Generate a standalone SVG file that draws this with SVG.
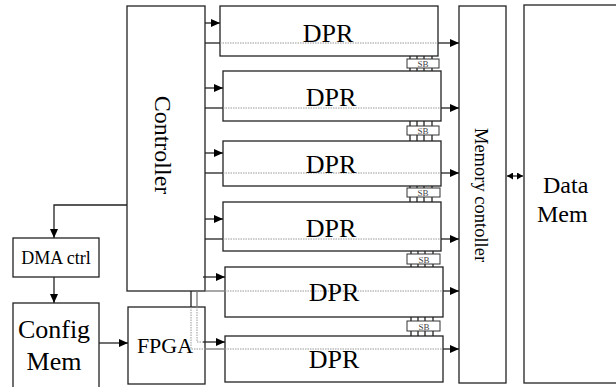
<svg xmlns="http://www.w3.org/2000/svg" width="616" height="387" viewBox="0 0 616 387">
<defs>
<marker id="ah" markerWidth="10" markerHeight="8" refX="9" refY="4" orient="auto" markerUnits="userSpaceOnUse"><path d="M0,0 L9,4 L0,8 z" fill="#000"/></marker>
<marker id="ahs" markerWidth="7" markerHeight="7" refX="6" refY="3.5" orient="auto-start-reverse" markerUnits="userSpaceOnUse"><path d="M0,0 L6,3.5 L0,7 z" fill="#000"/></marker>
</defs>
<style>
.box{fill:#fff;stroke:#222;stroke-width:1.3}
.ln{fill:none;stroke:#222;stroke-width:1.3}
.gl{fill:none;stroke:#777;stroke-width:1.3}
.dot{fill:none;stroke:#999;stroke-width:1;stroke-dasharray:1.5 1}
.t{font-family:"Liberation Serif","Times New Roman",serif;fill:#000}
.sb{fill:#fff;stroke:#333;stroke-width:1}
.sbt{font-family:"Liberation Serif","Times New Roman",serif;font-size:9px;fill:#444}
</style>
<rect width="616" height="387" fill="#fff"/>

<g id="controller">
<rect class="box" x="127" y="6" width="78" height="285"/>
<text class="t" font-size="24" text-anchor="middle" transform="translate(155,145) rotate(90)">Controller</text>
</g>

<g id="memctrl">
<rect class="box" x="459" y="6" width="47" height="377"/>
<text class="t" font-size="18.5" text-anchor="middle" transform="translate(475,195) rotate(90)">Memory contoller</text>
</g>

<g id="datamem">
<rect class="box" x="524" y="5" width="100" height="378"/>
<text class="t" font-size="24" x="543" y="193">Data</text>
<text class="t" font-size="24" x="537" y="222">Mem</text>
</g>

<g id="dma">
<rect class="box" x="13" y="238" width="86" height="39"/>
<text class="t" font-size="18" x="56" y="264" text-anchor="middle">DMA ctrl</text>
</g>

<g id="configmem">
<rect class="box" x="13" y="303" width="86" height="90"/>
<text class="t" font-size="26" x="54" y="338" text-anchor="middle">Config</text>
<text class="t" font-size="26" x="54" y="370" text-anchor="middle">Mem</text>
</g>

<g id="fpga">
<rect class="box" x="128" y="307" width="77" height="77"/>
<text class="t" font-size="22" x="165" y="353" text-anchor="middle">FPGA</text>
</g>

<g id="dpr1"><rect class="box" x="220" y="6" width="218" height="50"/><line class="dot" x1="220" y1="43" x2="438" y2="43"/><text class="t" font-size="26" x="328" y="42" text-anchor="middle">DPR</text></g>
<g id="dpr2"><rect class="box" x="223" y="71" width="218" height="50"/><line class="dot" x1="223" y1="108" x2="441" y2="108"/><text class="t" font-size="26" x="331" y="106" text-anchor="middle">DPR</text></g>
<g id="dpr3"><rect class="box" x="223" y="141" width="218" height="45"/><line class="dot" x1="223" y1="173" x2="441" y2="173"/><text class="t" font-size="26" x="331" y="173" text-anchor="middle">DPR</text></g>
<g id="dpr4"><rect class="box" x="223" y="202" width="218" height="49"/><line class="dot" x1="223" y1="239" x2="441" y2="239"/><text class="t" font-size="26" x="331" y="237" text-anchor="middle">DPR</text></g>
<g id="dpr5"><rect class="box" x="225" y="267" width="218" height="50"/><line class="dot" x1="225" y1="291" x2="443" y2="291"/><text class="t" font-size="26" x="334" y="301" text-anchor="middle">DPR</text></g>
<g id="dpr6"><rect class="box" x="225" y="336" width="218" height="46"/><line class="dot" x1="225" y1="349" x2="443" y2="349"/><text class="t" font-size="26" x="334" y="368" text-anchor="middle">DPR</text></g>

<g id="sb1"><path class="ln" d="M410,56V71M417,56V71M424,56V71M432,56V71" stroke-width="1"/><rect class="sb" x="407" y="59" width="32" height="9"/><text class="sbt" x="423" y="67" text-anchor="middle">SB</text></g>
<g id="sb2"><path class="ln" d="M410,121V141M417,121V141M424,121V141M432,121V141" stroke-width="1"/><rect class="sb" x="407" y="126" width="32" height="9"/><text class="sbt" x="423" y="134" text-anchor="middle">SB</text></g>
<g id="sb3"><path class="ln" d="M410,186V202M417,186V202M424,186V202M432,186V202" stroke-width="1"/><rect class="sb" x="407" y="188" width="33" height="9"/><text class="sbt" x="423" y="196" text-anchor="middle">SB</text></g>
<g id="sb4"><path class="ln" d="M411,251V267M418,251V267M425,251V267M433,251V267" stroke-width="1"/><rect class="sb" x="407" y="254" width="33" height="10"/><text class="sbt" x="424" y="263" text-anchor="middle">SB</text></g>
<g id="sb5"><path class="ln" d="M411,317V336M418,317V336M425,317V336M433,317V336" stroke-width="1"/><rect class="sb" x="407" y="321" width="33" height="10"/><text class="sbt" x="424" y="330" text-anchor="middle">SB</text></g>

<g id="connectors">
<line class="ln" x1="205" y1="23" x2="220" y2="23" marker-end="url(#ah)"/>
<line class="ln" x1="205" y1="88" x2="223" y2="88" marker-end="url(#ah)"/>
<line class="ln" x1="205" y1="153" x2="223" y2="153" marker-end="url(#ah)"/>
<line class="ln" x1="205" y1="219" x2="223" y2="219" marker-end="url(#ah)"/>
<line class="ln" x1="203" y1="277" x2="225" y2="277" marker-end="url(#ah)"/>
<line class="ln" x1="203" y1="342" x2="225" y2="342" marker-end="url(#ah)"/>
<line class="ln" x1="205" y1="43" x2="220" y2="43"/>
<line class="ln" x1="205" y1="108" x2="223" y2="108"/>
<line class="ln" x1="205" y1="173" x2="223" y2="173"/>
<line class="ln" x1="205" y1="239" x2="223" y2="239"/>
<line class="gl" x1="205" y1="291" x2="225" y2="291"/>
<line class="gl" x1="205" y1="349" x2="225" y2="349"/>
<line class="ln" x1="438" y1="43" x2="459" y2="43" marker-end="url(#ah)"/>
<line class="ln" x1="441" y1="108" x2="459" y2="108" marker-end="url(#ah)"/>
<line class="ln" x1="441" y1="173" x2="459" y2="173" marker-end="url(#ah)"/>
<line class="ln" x1="441" y1="239" x2="459" y2="239" marker-end="url(#ah)"/>
<line class="ln" x1="443" y1="291" x2="459" y2="291" marker-end="url(#ah)"/>
<line class="ln" x1="443" y1="349" x2="459" y2="349" marker-end="url(#ah)"/>
<line class="ln" x1="507" y1="176" x2="523" y2="176" marker-start="url(#ahs)" marker-end="url(#ahs)"/>
<path class="ln" d="M127,205H54V238" marker-end="url(#ah)"/>
<line class="ln" x1="54" y1="277" x2="54" y2="303" marker-end="url(#ah)"/>
<line class="ln" x1="99" y1="343" x2="128" y2="343" marker-end="url(#ah)"/>
<line class="ln" x1="191" y1="291" x2="191" y2="307"/>
<line class="gl" x1="197" y1="291" x2="197" y2="307"/>
<path class="dot" d="M191,307V349H205"/>
<path class="dot" d="M197,307V342H203"/>
</g>
</svg>
